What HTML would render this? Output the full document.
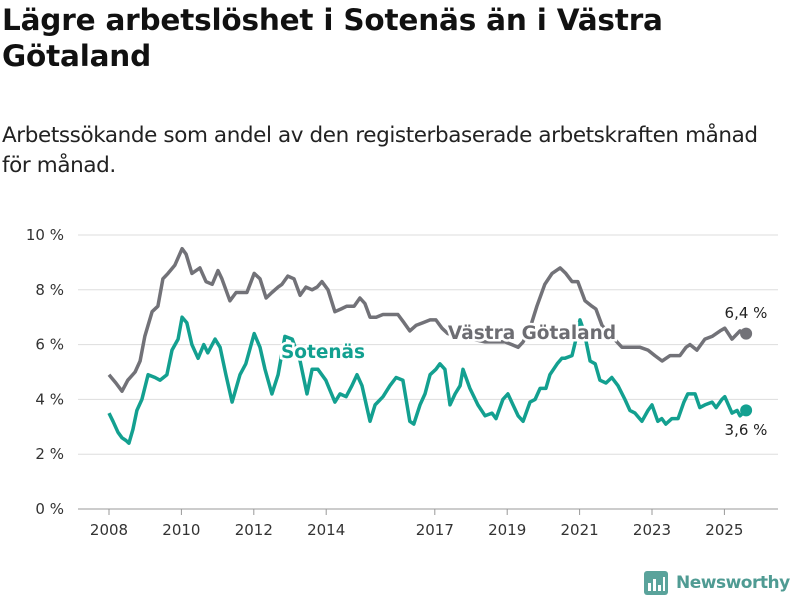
<!DOCTYPE html>
<html><head><meta charset="utf-8"><style>
body{margin:0;background:#fff;width:800px;height:600px;overflow:hidden;font-family:"Liberation Sans","DejaVu Sans",sans-serif;}
#title{position:absolute;left:2px;top:2px;font-family:"DejaVu Sans",sans-serif;font-weight:bold;font-size:29.5px;line-height:36px;color:#111;margin:0;letter-spacing:-0.2px}
#sub{position:absolute;left:2px;top:121px;font-family:"DejaVu Sans",sans-serif;font-size:21.5px;line-height:30px;color:#222;margin:0;letter-spacing:-0.4px}
</style></head><body>
<h1 id="title">Lägre arbetslöshet i Sotenäs än i Västra<br>Götaland</h1>
<p id="sub">Arbetssökande som andel av den registerbaserade arbetskraften månad<br>för månad.</p>
<svg id="chart" width="800" height="600" style="position:absolute;left:0;top:0"></svg>
<script>
const yTicks=[0,2,4,6,8,10];
const xTicks=[2008,2010,2012,2014,2017,2019,2021,2023,2025];
const vgDates=[2008.00,2008.19,2008.36,2008.52,2008.72,2008.86,2008.99,2009.19,2009.35,2009.49,2009.63,2009.82,2010.02,2010.13,2010.29,2010.51,2010.68,2010.85,2011.01,2011.12,2011.34,2011.51,2011.67,2011.81,2012.01,2012.17,2012.34,2012.50,2012.67,2012.78,2012.94,2013.11,2013.28,2013.44,2013.61,2013.75,2013.88,2014.05,2014.24,2014.41,2014.57,2014.77,2014.93,2015.07,2015.21,2015.38,2015.57,2015.82,2015.98,2016.15,2016.31,2016.48,2016.67,2016.87,2017.03,2017.20,2017.36,2017.70,2018.03,2018.39,2018.67,2018.94,2019.13,2019.30,2019.44,2019.63,2019.82,2020.04,2020.24,2020.46,2020.62,2020.79,2020.95,2021.15,2021.34,2021.45,2021.62,2021.89,2022.17,2022.67,2022.89,2023.08,2023.28,2023.50,2023.77,2023.94,2024.05,2024.24,2024.46,2024.66,2024.88,2025.01,2025.21,2025.43,2025.60];
const vgValues=[4.9,4.6,4.3,4.7,5.0,5.4,6.3,7.2,7.4,8.4,8.6,8.9,9.5,9.3,8.6,8.8,8.3,8.2,8.7,8.4,7.6,7.9,7.9,7.9,8.6,8.4,7.7,7.9,8.1,8.2,8.5,8.4,7.8,8.1,8.0,8.1,8.3,8.0,7.2,7.3,7.4,7.4,7.7,7.5,7.0,7.0,7.1,7.1,7.1,6.8,6.5,6.7,6.8,6.9,6.9,6.6,6.4,6.3,6.2,6.1,6.1,6.1,6.0,5.9,6.1,6.6,7.4,8.2,8.6,8.8,8.6,8.3,8.3,7.6,7.4,7.3,6.7,6.3,5.9,5.9,5.8,5.6,5.4,5.6,5.6,5.9,6.0,5.8,6.2,6.3,6.5,6.6,6.2,6.5,6.4];
const soDates=[2008.00,2008.11,2008.25,2008.36,2008.47,2008.55,2008.66,2008.77,2008.91,2009.08,2009.27,2009.41,2009.60,2009.74,2009.91,2010.02,2010.15,2010.29,2010.46,2010.62,2010.73,2010.93,2011.07,2011.23,2011.40,2011.62,2011.78,2012.01,2012.17,2012.31,2012.50,2012.67,2012.86,2013.06,2013.28,2013.47,2013.61,2013.77,2013.99,2014.24,2014.38,2014.55,2014.71,2014.85,2014.99,2015.21,2015.35,2015.57,2015.76,2015.93,2016.12,2016.31,2016.42,2016.59,2016.73,2016.87,2017.03,2017.14,2017.28,2017.42,2017.56,2017.70,2017.78,2017.97,2018.19,2018.39,2018.58,2018.69,2018.88,2019.02,2019.16,2019.30,2019.44,2019.63,2019.77,2019.91,2020.07,2020.18,2020.38,2020.51,2020.59,2020.79,2020.90,2021.01,2021.12,2021.29,2021.43,2021.56,2021.73,2021.89,2022.06,2022.25,2022.39,2022.53,2022.72,2022.89,2023.00,2023.16,2023.27,2023.38,2023.55,2023.72,2023.88,2023.99,2024.19,2024.32,2024.46,2024.66,2024.77,2024.93,2025.01,2025.21,2025.35,2025.43,2025.60];
const soValues=[3.5,3.2,2.8,2.6,2.5,2.4,2.9,3.6,4.0,4.9,4.8,4.7,4.9,5.8,6.2,7.0,6.8,6.0,5.5,6.0,5.7,6.2,5.9,4.9,3.9,4.9,5.3,6.4,5.9,5.1,4.2,4.9,6.3,6.2,5.4,4.2,5.1,5.1,4.7,3.9,4.2,4.1,4.5,4.9,4.5,3.2,3.8,4.1,4.5,4.8,4.7,3.2,3.1,3.8,4.2,4.9,5.1,5.3,5.1,3.8,4.2,4.5,5.1,4.4,3.8,3.4,3.5,3.3,4.0,4.2,3.8,3.4,3.2,3.9,4.0,4.4,4.4,4.9,5.3,5.5,5.5,5.6,6.2,6.9,6.5,5.4,5.3,4.7,4.6,4.8,4.5,4.0,3.6,3.5,3.2,3.6,3.8,3.2,3.3,3.1,3.3,3.3,3.9,4.2,4.2,3.7,3.8,3.9,3.7,4.0,4.1,3.5,3.6,3.4,3.6];
const NS='http://www.w3.org/2000/svg';
const svg=document.getElementById('chart');
const xs=d=>109+(d-2008)*36.2;
const ys=v=>509-v*27.4;
function mk(t,a,p){const e=document.createElementNS(NS,t);for(const k in a)e.setAttribute(k,a[k]);(p||svg).appendChild(e);return e;}
yTicks.forEach(v=>{
  const l=mk('line',{x1:78,x2:778,y1:ys(v),y2:ys(v),stroke:v===0?'#999':'#ddd','stroke-width':1});
  
  
  const t=mk('text',{x:64,y:ys(v)+5,'text-anchor':'end','font-size':15,fill:'#333','font-family':'DejaVu Sans, sans-serif'});
  t.textContent=v+' %';
  
  
});
xTicks.forEach(y=>{
  const l=mk('line',{x1:xs(y),x2:xs(y),y1:509,y2:515,stroke:'#999'});
  
  
  const t=mk('text',{x:xs(y),y:535,'text-anchor':'middle','font-size':15,fill:'#333','font-family':'DejaVu Sans, sans-serif'});
  t.textContent=y;
  
  
});
function line(ds,vs,c,n){
  const p=mk('path',{d:ds.map((d,i)=>(i?'L':'M')+xs(d).toFixed(1)+','+ys(vs[i]).toFixed(1)).join(''),fill:'none',stroke:c,'stroke-width':3.5,'stroke-linejoin':'round'});
  
  
  const i=ds.length-1;
  const c2=mk('circle',{cx:xs(ds[i]),cy:ys(vs[i]),r:6,fill:c});
  
  
}
line(vgDates,vgValues,'#727278','vastra-gotaland');
line(soDates,soValues,'#13a090','sotenas');
function lab(x,y,txt,c,n,sz,w,halo){
  const t=mk('text',{x:x,y:y,'font-size':sz,'font-weight':w,fill:c,'font-family':'DejaVu Sans, sans-serif','text-anchor':'middle'});
  if(halo){t.setAttribute('stroke','#fff');t.setAttribute('stroke-width',5);t.setAttribute('paint-order','stroke');}
  t.textContent=txt;
  
  
}
lab(532,339,'Västra Götaland','#6d6d72','vastra-gotaland-label',18.5,'bold',true);
lab(323,358,'Sotenäs','#12a090','sotenas-label',18.5,'bold',true);
const last=vgValues.length-1, lastS=soValues.length-1;
lab(746,318,vgValues[last].toFixed(1).replace('.',',')+' %','#222','vastra-gotaland-end-value',15,'normal',false);
lab(746,435,soValues[lastS].toFixed(1).replace('.',',')+' %','#222','sotenas-end-value',15,'normal',false);
</script>
<div style="position:absolute;left:644px;top:570px;height:26px;display:flex;align-items:center">
<svg width="24" height="24"><rect x="0" y="0" width="24" height="24" rx="3" fill="#5aa39b"/><rect x="4" y="12" width="3" height="8" fill="#fff"/><rect x="9" y="8" width="3" height="12" fill="#fff"/><rect x="14" y="14" width="3" height="6" fill="#fff"/><rect x="19" y="6" width="2" height="14" fill="#fff"/></svg>
<span style="margin-left:8px;font-family:'DejaVu Sans',sans-serif;font-weight:bold;font-size:17px;color:#4f9b93;letter-spacing:-0.5px">Newsworthy</span>
</div>
</body></html>
